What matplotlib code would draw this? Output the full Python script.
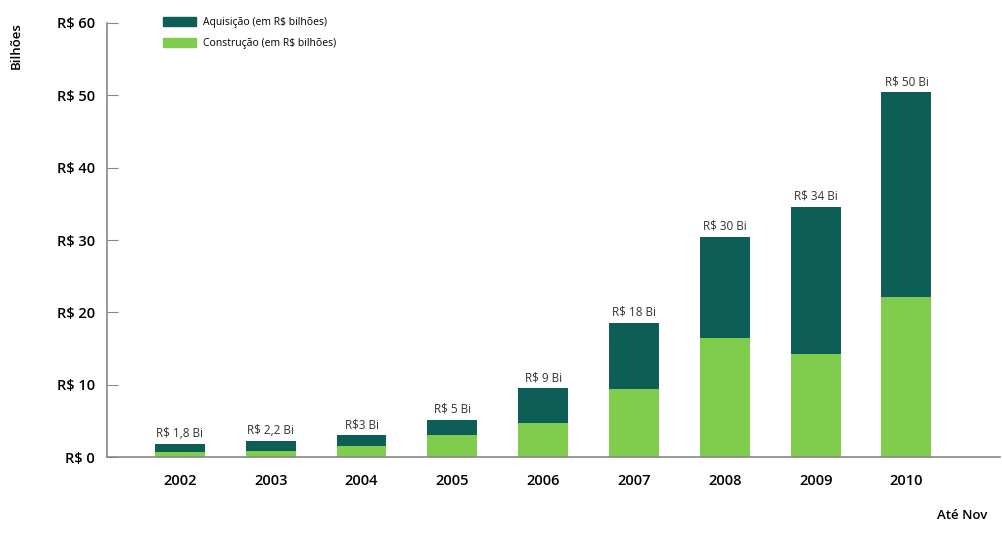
import numpy as np
import matplotlib.pyplot as plt
from matplotlib.patches import Patch

anos = ['2002', '2003', '2004', '2005', '2006', '2007', '2008', '2009', '2010']
construcao = [0.7, 0.8, 1.5, 3.0, 4.7, 9.4, 16.5, 14.2, 22.1]
aquisicao = [1.1, 1.4, 1.5, 2.1, 4.8, 9.1, 13.9, 20.4, 28.3]
rotulos = ['R$ 1,8 Bi', 'R$ 2,2 Bi', 'R$3 Bi', 'R$ 5 Bi', 'R$ 9 Bi',
           'R$ 18 Bi', 'R$ 30 Bi', 'R$ 34 Bi', 'R$ 50 Bi']
yticks = [0, 10, 20, 30, 40, 50, 60]

escuro = '#0c5e56'
claro = '#80cc4c'

plt.rcParams['font.family'] = ['Open Sans', 'DejaVu Sans']

fig = plt.figure(figsize=(10.02, 5.34), dpi=100)
ax = fig.add_axes([0.107, 0.144, 0.891, 0.813])

x = np.arange(len(anos))
ax.bar(x, construcao, width=0.55, color=claro)
ax.bar(x, aquisicao, width=0.55, bottom=construcao, color=escuro)

totais = np.array(construcao) + np.array(aquisicao)
for xi, t, r in zip(x, totais, rotulos):
  ax.text(xi, t + 0.6, r, ha='center', va='bottom', fontsize=8.5, color='#333333')

ax.set_ylim(0, 60)
ax.set_xlim(-0.80, 9.03)
ax.set_yticks(yticks)
ax.set_yticklabels([f'R$ {v}' for v in yticks], fontsize=10.5, fontweight='semibold')
ax.set_xticks(x)
ax.set_xticklabels(anos, fontsize=10.5, fontweight='semibold')
ax.tick_params(axis='y', direction='in', length=8, color='#888888', pad=9)
ax.tick_params(axis='x', length=0, pad=12)

for s in ['top', 'right']:
  ax.spines[s].set_visible(False)
ax.spines['left'].set_color('#888888')
ax.spines['bottom'].set_color('#888888')
ax.spines['left'].set_linewidth(1.2)
ax.spines['bottom'].set_linewidth(1.2)

fig.text(0.016, 0.915, 'Bilhões', rotation=90, ha='center', va='center',
         fontsize=9.5, fontweight='semibold')
fig.text(0.985, 0.022, 'Até Nov', ha='right', va='bottom',
         fontsize=9.5, fontweight='semibold')

handles = [Patch(color=escuro, label='Aquisição (em R$ bilhões)'),
           Patch(color=claro, label='Construção (em R$ bilhões)')]
ax.legend(handles=handles, loc='upper left', bbox_to_anchor=(0.052, 1.035),
          frameon=False, fontsize=7.5, handlelength=3.2, handleheight=1.0,
          labelspacing=0.9, handletextpad=0.6)

plt.savefig('out.png', dpi=100)
